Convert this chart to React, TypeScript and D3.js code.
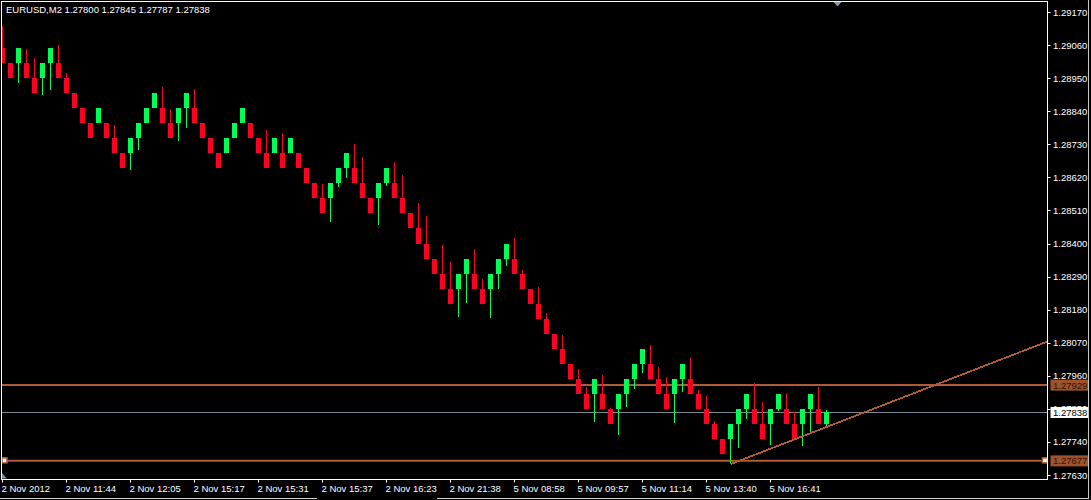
import React from "react";
import * as d3 from "d3";

// ---- data ----
const opens = [
  1.2905, 1.29, 1.29, 1.29, 1.2895, 1.2895, 1.29, 1.29, 1.2895, 1.289,
  1.2885, 1.288, 1.288, 1.288, 1.2875, 1.287, 1.287, 1.2875, 1.288, 1.2885,
  1.2885, 1.288, 1.288, 1.2885, 1.2885, 1.288, 1.2875, 1.287, 1.287, 1.2875,
  1.288, 1.288, 1.2875, 1.287, 1.287, 1.287, 1.287, 1.287, 1.2865, 1.286,
  1.2855, 1.2855, 1.286, 1.2865, 1.2865, 1.286, 1.2855, 1.2855, 1.286, 1.286,
  1.2855, 1.285, 1.2845, 1.284, 1.2835, 1.283, 1.2825, 1.2825, 1.283, 1.283,
  1.2825, 1.2825, 1.283, 1.2835, 1.2835, 1.283, 1.2825, 1.282, 1.2815, 1.281,
  1.2805, 1.28, 1.2795, 1.279, 1.279, 1.279, 1.2785, 1.2785, 1.279, 1.2795,
  1.28, 1.28, 1.2795, 1.279, 1.279, 1.2795, 1.2795, 1.279, 1.2785, 1.278,
  1.2775, 1.2775, 1.278, 1.2785, 1.2785, 1.278, 1.278, 1.2785, 1.2785, 1.278,
  1.278, 1.2785, 1.2785, 1.278,
];
const closes = [
  1.29, 1.2895, 1.2905, 1.2895, 1.289, 1.29, 1.2905, 1.2895, 1.289, 1.2885,
  1.288, 1.2875, 1.2885, 1.2875, 1.287, 1.2865, 1.2875, 1.288, 1.2885, 1.289,
  1.288, 1.2875, 1.2885, 1.289, 1.288, 1.2875, 1.287, 1.2865, 1.2875, 1.288,
  1.2885, 1.2875, 1.287, 1.2865, 1.2875, 1.2865, 1.2875, 1.2865, 1.286, 1.2855,
  1.285, 1.286, 1.2865, 1.287, 1.286, 1.2855, 1.285, 1.286, 1.2865, 1.2855,
  1.285, 1.2845, 1.284, 1.2835, 1.283, 1.2825, 1.282, 1.283, 1.2835, 1.2825,
  1.282, 1.283, 1.2835, 1.284, 1.283, 1.2825, 1.282, 1.2815, 1.281, 1.2805,
  1.28, 1.2795, 1.279, 1.2785, 1.2795, 1.2785, 1.278, 1.279, 1.2795, 1.28,
  1.2805, 1.2795, 1.279, 1.2785, 1.2795, 1.28, 1.279, 1.2785, 1.278, 1.2775,
  1.277, 1.278, 1.2785, 1.279, 1.278, 1.2775, 1.2785, 1.279, 1.278, 1.2775,
  1.2785, 1.279, 1.278, 1.27838,
];
const highs = [
  1.29123, 1.29, 1.2905, 1.29047, 1.29018, 1.29, 1.2905, 1.2906, 1.28967, 1.289,
  1.2885, 1.288, 1.2885, 1.288, 1.28794, 1.287, 1.2875, 1.288, 1.2885, 1.289,
  1.2892, 1.28847, 1.2885, 1.289, 1.28914, 1.288, 1.2875, 1.287, 1.2875, 1.288,
  1.2885, 1.288, 1.2875, 1.28777, 1.2875, 1.28767, 1.2875, 1.287, 1.2865, 1.286,
  1.28598, 1.286, 1.2865, 1.287, 1.28731, 1.28688, 1.2855, 1.286, 1.2865, 1.28671,
  1.28628, 1.285, 1.28535, 1.28491, 1.2835, 1.28395, 1.28338, 1.283, 1.2835, 1.28382,
  1.28282, 1.283, 1.2835, 1.284, 1.28418, 1.28312, 1.2825, 1.28255, 1.28169, 1.281,
  1.28095, 1.28, 1.27982, 1.27922, 1.2795, 1.27962, 1.27854, 1.279, 1.2795, 1.28,
  1.2805, 1.28062, 1.27989, 1.27956, 1.2795, 1.28, 1.28019, 1.27912, 1.27892, 1.27809,
  1.2775, 1.278, 1.2785, 1.279, 1.27936, 1.27873, 1.2785, 1.279, 1.27903, 1.2784,
  1.2785, 1.279, 1.27922, 1.27845,
];
const lows = [
  1.29, 1.2895, 1.28935, 1.2895, 1.289, 1.28895, 1.28912, 1.2895, 1.289, 1.2885,
  1.288, 1.2875, 1.288, 1.2875, 1.287, 1.2865, 1.28645, 1.28712, 1.288, 1.2885,
  1.288, 1.2875, 1.28742, 1.28785, 1.288, 1.2875, 1.287, 1.2865, 1.287, 1.2875,
  1.288, 1.2875, 1.287, 1.2865, 1.287, 1.2865, 1.287, 1.2865, 1.286, 1.2855,
  1.285, 1.28472, 1.28589, 1.28619, 1.286, 1.2855, 1.285, 1.28462, 1.28592, 1.2855,
  1.285, 1.2845, 1.284, 1.2835, 1.283, 1.2825, 1.282, 1.28156, 1.28203, 1.2825,
  1.282, 1.28153, 1.2825, 1.28326, 1.283, 1.2825, 1.282, 1.2815, 1.281, 1.2805,
  1.28, 1.2795, 1.279, 1.2785, 1.27807, 1.2785, 1.278, 1.27764, 1.27857, 1.27917,
  1.2797, 1.2795, 1.279, 1.2785, 1.27804, 1.27907, 1.279, 1.2785, 1.278, 1.2775,
  1.277, 1.27666, 1.27721, 1.27817, 1.278, 1.2775, 1.2773, 1.27844, 1.278, 1.2775,
  1.27726, 1.27773, 1.278, 1.27787,
];
const timeLabels = [
  "2 Nov 2012", "2 Nov 11:44", "2 Nov 12:05", "2 Nov 15:17", "2 Nov 15:31",
  "2 Nov 15:37", "2 Nov 16:23", "2 Nov 21:38", "5 Nov 08:58", "5 Nov 09:57",
  "5 Nov 11:14", "5 Nov 13:40", "5 Nov 16:41",
];
const timeLabelBars = [0, 8, 16, 24, 32, 40, 48, 56, 64, 72, 80, 88, 96];
const priceTicks = [
  1.2917, 1.2906, 1.2895, 1.2884, 1.2873, 1.2862, 1.2851, 1.284, 1.2829,
  1.2818, 1.2807, 1.2796, 1.2785, 1.2774, 1.2763,
];
const hLines = [1.27929, 1.27677];
const bidPrice = 1.27838;
const trendBars = [91, 131];
const trendPrices = [1.27666, 1.28078];
const header = "EURUSD,M2  1.27800 1.27845 1.27787 1.27838";

const W = 1091;
const H = 500;
const plotL = 1.5;
const plotT = 1.5;
const plotR = 1047.5;
const plotB = 479.5;
const UP = "#00ff55";
const DOWN = "#ff0022";
const SIENNA = "#b05a3a";
const LABEL_BG = "#a0522d";
const FONT = "'Liberation Sans', Arial, sans-serif";

const fmt = (v: number) => v.toFixed(5);

export default function App() {
  const y = d3.scaleLinear().domain([1.2763, 1.2917]).range([475, 12]);
  const x = d3.scaleLinear().domain([0, 1]).range([0, 8]);
  const bodyW = 5;

  const candles = opens.map((o, i) => {
    const c = closes[i];
    const up = c >= o;
    const col = up ? UP : DOWN;
    const yTop = Math.round(y(Math.max(o, c)));
    const yBot = Math.round(y(Math.min(o, c)));
    const yHi = Math.round(y(highs[i]));
    const yLo = Math.round(y(lows[i]));
    const cx = x(i) + 2.5;
    return (
      <g key={i}>
        <line x1={cx} x2={cx} y1={yHi} y2={yLo} stroke={col} strokeWidth={1} />
        <rect x={x(i)} y={yTop} width={bodyW} height={Math.max(1, yBot - yTop)} fill={col} />
      </g>
    );
  });

  const trendLine = d3
    .line<number>()
    .x((_, k) => x(trendBars[k]) + 2.5)
    .y((p) => y(p))(trendPrices);

  return (
    <svg
      width={W}
      height={H}
      style={{ position: "absolute", left: 0, top: 0, display: "block" }}
      fontFamily={FONT}
    >
      <rect x={0} y={0} width={W} height={H} fill="#000" />
      <defs>
        <clipPath id="plot">
          <rect x={plotL} y={plotT} width={plotR - plotL} height={plotB - plotT} />
        </clipPath>
      </defs>

      <g clipPath="url(#plot)">
        {/* horizontal lines */}
        {hLines.map((p, k) => (
          <line key={k} x1={plotL} x2={plotR} y1={y(p)} y2={y(p)} stroke={SIENNA} strokeWidth={2} />
        ))}
        <line x1={plotL} x2={plotR} y1={Math.round(y(bidPrice)) + 0.5} y2={Math.round(y(bidPrice)) + 0.5} stroke="#778899" strokeWidth={1} />
        {candles}
        <path d={trendLine || ""} stroke={SIENNA} strokeWidth={1.8} fill="none" shapeRendering="crispEdges" />
        {/* selection markers on the lower line */}
        <rect x={2} y={y(hLines[1]) - 3} width={5} height={5} fill="#fff" stroke={SIENNA} strokeWidth={1.5} />
        <rect x={1042.5} y={y(hLines[1]) - 3} width={5} height={5} fill="#fff" stroke={SIENNA} strokeWidth={1.5} />
        {/* small volume ramp in corner */}
        <polygon points="2,473 2,478.5 7,478.5" fill="#7f8fa0" />
      </g>

      {/* chart shift marker */}
      <polygon points="833,1.5 842,1.5 837.5,6.5" fill="#8596a8" />

      {/* frame */}
      <rect x={plotL} y={plotT} width={plotR - plotL} height={plotB - plotT} fill="none" stroke="#fff" strokeWidth={1} />

      {/* header */}
      <text x={6} y={13} fill="#fff" fontSize={9.5}>
        {header}
      </text>

      {/* right axis */}
      {priceTicks.map((p, k) => (
        <g key={k}>
          <line x1={plotR} x2={plotR + 3} y1={Math.round(y(p)) + 0.5} y2={Math.round(y(p)) + 0.5} stroke="#fff" />
          <text x={1053} y={y(p) + 3.5} fill="#fff" fontSize={9.5}>
            {fmt(p)}
          </text>
        </g>
      ))}

      {/* price tags */}
      {hLines.map((p, k) => (
        <g key={k}>
          <rect x={1050.5} y={y(p) - 5.5} width={37.5} height={11} fill={LABEL_BG} />
          <text x={1053} y={y(p) + 3.5} fill="#2a1208" fontSize={9.5}>
            {fmt(p)}
          </text>
        </g>
      ))}
      <rect x={1050.5} y={y(bidPrice) - 5.5} width={37.5} height={11} fill="#fff" />
      <text x={1053} y={y(bidPrice) + 3.5} fill="#000" fontSize={9.5}>
        {fmt(bidPrice)}
      </text>

      {/* bottom axis */}
      {timeLabels.map((t, k) => {
        const tx = x(timeLabelBars[k]) + 2.5;
        return (
          <g key={k}>
            <line x1={tx} x2={tx} y1={plotB} y2={plotB + 3} stroke="#fff" />
            <text x={tx - 1} y={492} fill="#fff" fontSize={9.5}>
              {t}
            </text>
          </g>
        );
      })}

      {/* window edges */}
      <line x1={0} x2={317} y1={498.5} y2={498.5} stroke="#d4d4d4" />
      <line x1={437} x2={1089} y1={498.5} y2={498.5} stroke="#d4d4d4" />
      <line x1={1088.5} x2={1088.5} y1={0} y2={499} stroke="#c8c8c8" />
    </svg>
  );
}
